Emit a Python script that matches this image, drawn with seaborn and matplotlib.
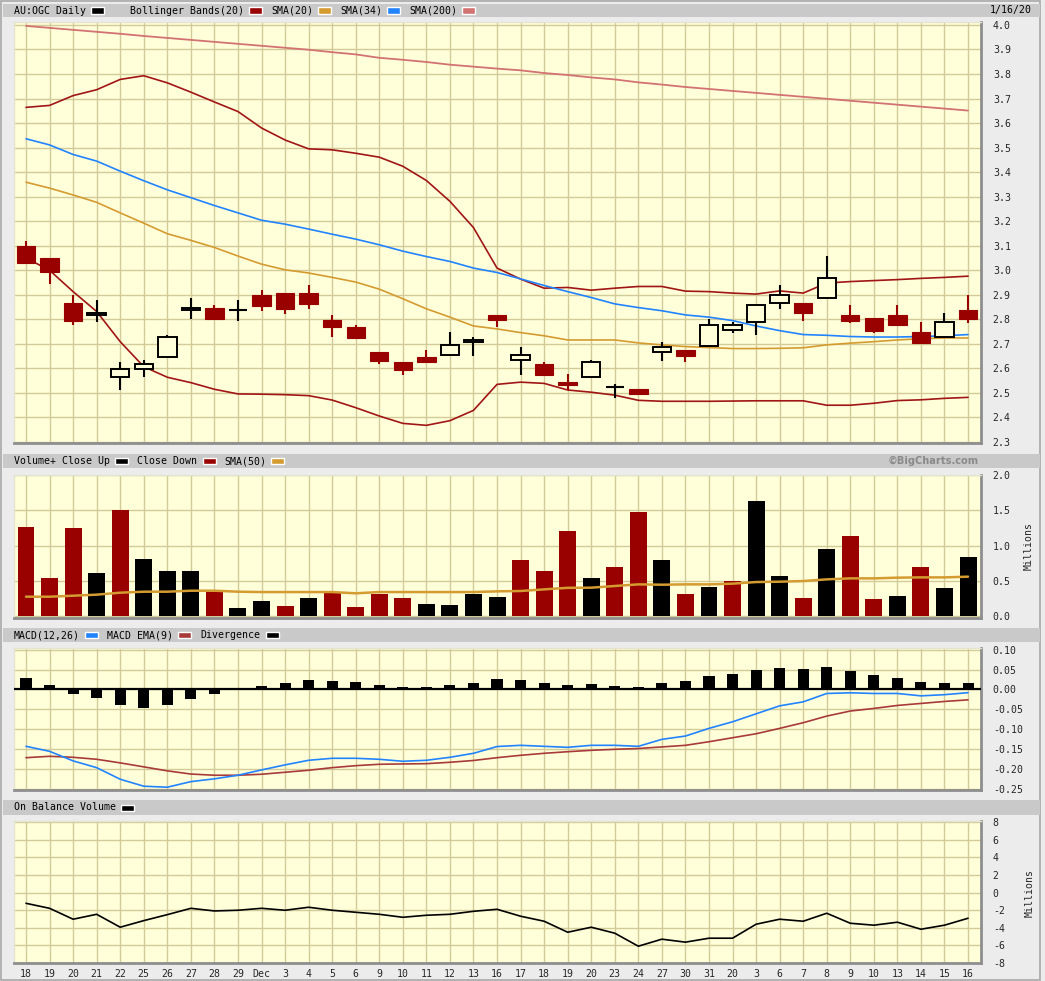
import numpy as np
import pandas as pd
import matplotlib
matplotlib.use("Agg")
import matplotlib.pyplot as plt
import seaborn as sns
from matplotlib.patches import Rectangle

# ---------------- data ----------------
dates = ["18", "19", "20", "21", "22", "25", "26", "27", "28", "29", "Dec", "3", "4", "5",
         "6", "9", "10", "11", "12", "13", "16", "17", "18", "19", "20", "23", "24", "27",
         "30", "31", "20", "3", "6", "7", "8", "9", "10", "13", "14", "15", "16"]

open_ = [3.100, 3.051, 2.867, 2.817, 2.564, 2.597, 2.646, 2.838, 2.847, 2.838, 2.900, 2.908,
         2.908, 2.798, 2.768, 2.666, 2.625, 2.646, 2.654, 2.707, 2.817, 2.633, 2.617, 2.544,
         2.565, 2.524, 2.515, 2.666, 2.674, 2.693, 2.756, 2.789, 2.866, 2.867, 2.887, 2.818,
         2.805, 2.817, 2.748, 2.727, 2.838]
close = [3.028, 2.995, 2.795, 2.826, 2.597, 2.617, 2.727, 2.846, 2.803, 2.838, 2.855, 2.843,
         2.864, 2.767, 2.726, 2.632, 2.595, 2.625, 2.695, 2.715, 2.797, 2.654, 2.575, 2.534,
         2.625, 2.524, 2.495, 2.688, 2.652, 2.776, 2.775, 2.858, 2.899, 2.824, 2.968, 2.795,
         2.754, 2.775, 2.705, 2.789, 2.803]
high = [3.120, 3.051, 2.900, 2.880, 2.627, 2.635, 2.737, 2.888, 2.859, 2.880, 2.920, 2.908,
        2.941, 2.818, 2.778, 2.666, 2.625, 2.676, 2.749, 2.727, 2.817, 2.688, 2.625, 2.578,
        2.635, 2.538, 2.515, 2.707, 2.674, 2.800, 2.789, 2.858, 2.941, 2.867, 3.059, 2.859,
        2.805, 2.859, 2.791, 2.827, 2.900]
low = [3.028, 2.946, 2.775, 2.790, 2.513, 2.564, 2.646, 2.802, 2.803, 2.795, 2.835, 2.820,
       2.843, 2.729, 2.726, 2.616, 2.573, 2.625, 2.654, 2.652, 2.767, 2.575, 2.575, 2.513,
       2.565, 2.481, 2.495, 2.632, 2.625, 2.693, 2.746, 2.738, 2.844, 2.795, 2.887, 2.786,
       2.745, 2.775, 2.705, 2.727, 2.786]
prev_close0 = 3.08

bb_upper = [3.664, 3.672, 3.712, 3.736, 3.778, 3.793, 3.764, 3.726, 3.686, 3.647, 3.580, 3.531,
            3.495, 3.491, 3.477, 3.461, 3.424, 3.366, 3.281, 3.174, 3.009, 2.964, 2.927, 2.930,
            2.919, 2.927, 2.934, 2.934, 2.915, 2.913, 2.907, 2.903, 2.916, 2.907, 2.948, 2.954,
            2.958, 2.962, 2.967, 2.971, 2.976]
bb_lower = [3.050, 3.000, 2.913, 2.832, 2.709, 2.607, 2.564, 2.542, 2.515, 2.496, 2.495, 2.493,
            2.489, 2.471, 2.440, 2.406, 2.376, 2.368, 2.387, 2.429, 2.535, 2.544, 2.539, 2.512,
            2.503, 2.491, 2.470, 2.466, 2.466, 2.466, 2.467, 2.468, 2.468, 2.468, 2.450, 2.450,
            2.458, 2.469, 2.472, 2.478, 2.482]
sma20 = [3.359, 3.335, 3.307, 3.277, 3.234, 3.192, 3.149, 3.122, 3.093, 3.058, 3.025, 3.002,
         2.989, 2.971, 2.952, 2.923, 2.884, 2.843, 2.809, 2.773, 2.761, 2.746, 2.733, 2.716,
         2.716, 2.716, 2.704, 2.696, 2.689, 2.685, 2.681, 2.681, 2.682, 2.684, 2.696, 2.703,
         2.709, 2.716, 2.721, 2.724, 2.724]
sma34 = [3.536, 3.511, 3.472, 3.445, 3.404, 3.365, 3.328, 3.296, 3.264, 3.234, 3.204, 3.188,
         3.168, 3.147, 3.127, 3.104, 3.078, 3.056, 3.036, 3.009, 2.991, 2.965, 2.938, 2.913,
         2.889, 2.863, 2.848, 2.835, 2.818, 2.809, 2.795, 2.773, 2.754, 2.738, 2.735, 2.730,
         2.728, 2.728, 2.730, 2.733, 2.738]
sma200 = [3.996, 3.988, 3.980, 3.972, 3.964, 3.955, 3.947, 3.939, 3.931, 3.923, 3.915, 3.907,
          3.899, 3.889, 3.880, 3.866, 3.858, 3.849, 3.838, 3.830, 3.822, 3.815, 3.804, 3.796,
          3.786, 3.778, 3.766, 3.757, 3.747, 3.739, 3.731, 3.723, 3.715, 3.707, 3.699, 3.691,
          3.683, 3.675, 3.667, 3.659, 3.651]

volume = [1.267, 0.544, 1.253, 0.615, 1.508, 0.813, 0.643, 0.643, 0.345, 0.118, 0.217, 0.147,
          0.260, 0.322, 0.132, 0.317, 0.260, 0.175, 0.161, 0.317, 0.274, 0.800, 0.643, 1.210,
          0.544, 0.700, 1.480, 0.800, 0.317, 0.411, 0.500, 1.636, 0.572, 0.260, 0.955, 1.140,
          0.246, 0.288, 0.700, 0.402, 0.842]
vol_sma50 = [0.274, 0.274, 0.288, 0.303, 0.331, 0.345, 0.345, 0.359, 0.359, 0.345, 0.340, 0.340,
             0.340, 0.340, 0.322, 0.340, 0.340, 0.340, 0.340, 0.340, 0.350, 0.355, 0.378, 0.400,
             0.402, 0.426, 0.449, 0.444, 0.449, 0.449, 0.459, 0.482, 0.487, 0.496, 0.520, 0.534,
             0.534, 0.544, 0.548, 0.548, 0.558]

macd = [-0.1425, -0.155, -0.179, -0.196, -0.225, -0.2425, -0.245, -0.231, -0.224, -0.215,
        -0.2017, -0.189, -0.1775, -0.1725, -0.1725, -0.175, -0.180, -0.1775, -0.170, -0.160,
        -0.143, -0.140, -0.1425, -0.145, -0.140, -0.140, -0.1425, -0.125, -0.1167, -0.0975,
        -0.081, -0.061, -0.041, -0.031, -0.010, -0.0083, -0.010, -0.010, -0.016, -0.013, -0.008]
macd_ema = [-0.171, -0.1675, -0.170, -0.175, -0.184, -0.194, -0.204, -0.212, -0.215, -0.215,
            -0.2125, -0.2075, -0.2025, -0.196, -0.191, -0.1875, -0.1867, -0.186, -0.1825, -0.178,
            -0.171, -0.165, -0.160, -0.156, -0.1525, -0.150, -0.148, -0.144, -0.140, -0.131,
            -0.121, -0.111, -0.0975, -0.0833, -0.0667, -0.054, -0.0475, -0.040, -0.035, -0.030,
            -0.026]
divergence = [0.029, 0.011, -0.012, -0.021, -0.039, -0.047, -0.039, -0.024, -0.012, 0.001,
              0.008, 0.016, 0.023, 0.021, 0.018, 0.011, 0.006, 0.006, 0.011, 0.016, 0.026,
              0.023, 0.016, 0.011, 0.013, 0.008, 0.006, 0.016, 0.021, 0.033, 0.038, 0.048,
              0.053, 0.051, 0.056, 0.046, 0.036, 0.028, 0.018, 0.016, 0.016]

obv = [-1.21, -1.78, -3.02, -2.46, -3.93, -3.18, -2.50, -1.78, -2.08, -2.00, -1.78, -2.00,
       -1.66, -2.00, -2.23, -2.46, -2.80, -2.57, -2.46, -2.12, -1.89, -2.68, -3.25, -4.50,
       -3.93, -4.61, -6.09, -5.29, -5.63, -5.18, -5.18, -3.59, -3.02, -3.25, -2.34, -3.48,
       -3.70, -3.36, -4.16, -3.70, -2.91]

price_ticks = [2.3, 2.4, 2.5, 2.6, 2.7, 2.8, 2.9, 3.0, 3.1, 3.2, 3.3, 3.4, 3.5, 3.6, 3.7, 3.8, 3.9, 4.0]
vol_ticks = [0.0, 0.5, 1.0, 1.5, 2.0]
macd_ticks = [-0.25, -0.20, -0.15, -0.10, -0.05, 0.00, 0.05, 0.10]
obv_ticks = [-8, -6, -4, -2, 0, 2, 4, 6, 8]

# ---------------- style ----------------
W, H = 1045, 981
BG = "#ECECEC"
HEAD = "#C9C9C9"
PLOT_BG = "#FFFFDA"
GRID = "#D2CB98"
DRED = "#990000"
GOLD = "#D49B30"
BLUE = "#2283FF"
PINK = "#D27272"
EMA_RED = "#A83A3A"
MONO = ["DejaVu Sans Mono"]
FS = 7.1

sns.set_style("white")
plt.rcParams["font.family"] = MONO

fig = plt.figure(figsize=(W / 100, H / 100), dpi=100, facecolor=BG)

def fx(x):
    return x / W

def fy(y):
    return 1 - y / H

def make_ax(top, bottom, left=14, right=981):
    ax = fig.add_axes([fx(left), fy(bottom), fx(right) - fx(left), (bottom - top) / H])
    ax.set_facecolor(PLOT_BG)
    return ax

def header(y0, y1):
    fig.patches.append(Rectangle((fx(3), fy(y1)), fx(1040) - fx(3), (y1 - y0) / H,
                                 transform=fig.transFigure, facecolor=HEAD, edgecolor="none", zorder=0))

def swatch(x, ymid, color):
    fig.patches.append(Rectangle((fx(x), fy(ymid + 3)), 13 / W, 6 / H, transform=fig.transFigure,
                                 facecolor=color, edgecolor="white", lw=1.0, zorder=3))

def htext(x, ymid, s, **kw):
    fig.text(fx(x), fy(ymid), s, fontsize=FS, va="center", ha=kw.pop("ha", "left"),
             color=kw.pop("color", "black"), **kw)

# outer frame
fig.patches.append(Rectangle((fx(1), fy(980)), fx(1040) - fx(1), 979 / H, transform=fig.transFigure,
                             facecolor="none", edgecolor="#A8A8A8", lw=1.2, zorder=0))

idx = np.arange(len(dates))
XLIM = (-0.51, 40.55)

def style_ax(ax, ticks, ylim, fmt):
    ax.set_xlim(*XLIM)
    ax.set_ylim(*ylim)
    ax.set_xticks(idx)
    ax.set_yticks(ticks)
    ax.grid(True, color=GRID, lw=1.0, zorder=0)
    ax.set_axisbelow(True)
    ax.yaxis.tick_right()
    ax.tick_params(axis="y", length=0, pad=8.5, labelsize=FS, labelright=True, labelleft=False)
    ax.set_yticklabels([fmt(t) for t in ticks])
    ax.tick_params(axis="x", length=0, labelbottom=False)
    for s in ["top", "left"]:
        ax.spines[s].set_color("#E4E4D0")
        ax.spines[s].set_linewidth(1.0)
    for s in ["bottom", "right"]:
        ax.spines[s].set_color("#8E8E8E")
        ax.spines[s].set_linewidth(2.0)
    ax.set_xlabel("")
    ax.set_ylabel("")

# ---------------- price panel ----------------
header(4, 17)
htext(14, 10.5, "AU:OGC Daily")
swatch(91, 10.5, "black")
htext(130, 10.5, "Bollinger Bands(20)")
swatch(249, 10.5, DRED)
htext(271, 10.5, "SMA(20)")
swatch(318, 10.5, GOLD)
htext(340, 10.5, "SMA(34)")
swatch(387, 10.5, BLUE)
htext(409, 10.5, "SMA(200)")
swatch(462, 10.5, PINK)
htext(1032, 10.5, "1/16/20", ha="right")

axp = make_ax(22, 443)
style_ax(axp, price_ticks, (2.296, 4.012), lambda t: f"{t:.1f}")
sns.lineplot(x=idx, y=sma200, ax=axp, color=PINK, lw=1.3, zorder=2)
sns.lineplot(x=idx, y=bb_upper, ax=axp, color="#A01515", lw=1.2, zorder=2)
sns.lineplot(x=idx, y=bb_lower, ax=axp, color="#A01515", lw=1.2, zorder=2)
sns.lineplot(x=idx, y=sma20, ax=axp, color=GOLD, lw=1.2, zorder=2)
sns.lineplot(x=idx, y=sma34, ax=axp, color=BLUE, lw=1.2, zorder=2)

o = np.array(open_); c = np.array(close); hi = np.array(high); lo = np.array(low)
down = c < o
doji = c == o
up = (~down) & (~doji)
BW = 0.78
wick_col = np.where(down, DRED, "black")
axp.vlines(idx, lo, hi, colors=wick_col, lw=1.5, zorder=3)
axp.bar(idx[down], (o - c)[down], bottom=c[down], width=BW, color=DRED, edgecolor=DRED, lw=0.8, zorder=4)
axp.bar(idx[up], (c - o)[up], bottom=o[up], width=BW, facecolor=PLOT_BG, edgecolor="black", lw=1.4, zorder=4)
axp.hlines(c[doji], idx[doji] - BW / 2, idx[doji] + BW / 2, colors="black", lw=1.5, zorder=4)
axp.set_xlim(*XLIM)

# ---------------- volume panel ----------------
header(454, 468)
htext(14, 461, "Volume+ Close Up")
swatch(115, 461, "black")
htext(137, 461, "Close Down")
swatch(203, 461, DRED)
htext(224, 461, "SMA(50)")
swatch(271, 461, GOLD)
htext(979, 461, "\u00a9BigCharts.com", ha="right", color="#8A8A8A", fontweight="bold",
      family=["DejaVu Sans"])

axv = make_ax(475, 618)
prev = np.concatenate([[prev_close0], c[:-1]])
vdir = np.where(c >= prev, "up", "down")
vdf = pd.DataFrame({"x": idx, "vol": volume, "dir": vdir})
sns.barplot(data=vdf, x="x", y="vol", hue="dir", palette={"up": "black", "down": DRED},
            native_scale=True, dodge=False, width=0.72, errorbar=None, legend=False,
            saturation=1, ax=axv, zorder=3, linewidth=0)
sns.lineplot(x=idx, y=vol_sma50, ax=axv, color=GOLD, lw=1.8, zorder=4)
style_ax(axv, vol_ticks, (-0.028, 2.0), lambda t: f"{t:.1f}")
fig.text(fx(1029), fy(546), "Millions", rotation=90, fontsize=FS, va="center", ha="center")

# ---------------- MACD panel ----------------
header(628, 642)
htext(14, 635, "MACD(12,26)")
swatch(85, 635, BLUE)
htext(107, 635, "MACD EMA(9)")
swatch(178, 635, EMA_RED)
htext(200, 635, "Divergence")
swatch(266, 635, "black")

axm = make_ax(648, 790)
mdf = pd.DataFrame({"x": idx, "d": divergence})
sns.barplot(data=mdf, x="x", y="d", native_scale=True, color="black", width=0.47,
            saturation=1, errorbar=None, ax=axm, zorder=3, linewidth=0)
axm.axhline(0, color="black", lw=1.6, zorder=4)
sns.lineplot(x=idx, y=macd_ema, ax=axm, color=EMA_RED, lw=1.2, zorder=4)
sns.lineplot(x=idx, y=macd, ax=axm, color=BLUE, lw=1.2, zorder=4)
style_ax(axm, macd_ticks, (-0.252, 0.104), lambda t: f"{t:.2f}")

# ---------------- OBV panel ----------------
header(800, 815)
htext(14, 807.5, "On Balance Volume")
swatch(121, 807.5, "black")

axo = make_ax(821, 963)
sns.lineplot(x=idx, y=obv, ax=axo, color="black", lw=1.2, zorder=4)
style_ax(axo, obv_ticks, (-8.0, 8.15), lambda t: f"{t:d}")
axo.tick_params(axis="x", labelbottom=True, pad=4, labelsize=FS)
axo.set_xticklabels(dates)
fig.text(fx(1030), fy(893), "Millions", rotation=90, fontsize=FS, va="center", ha="center")

fig.savefig("out.png", dpi=100, facecolor=BG)
